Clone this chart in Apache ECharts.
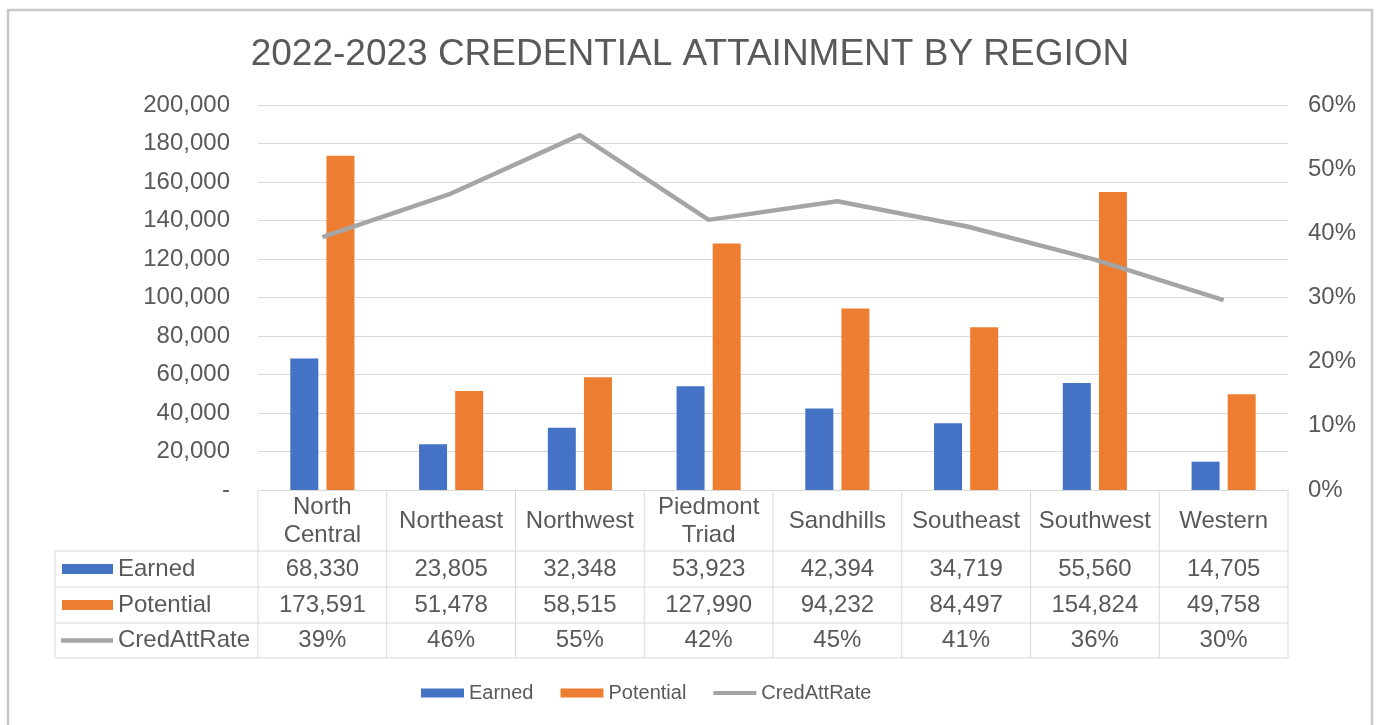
<!DOCTYPE html>
<html>
<head>
<meta charset="utf-8">
<script src="https://cdn.jsdelivr.net/npm/echarts@6/dist/echarts.min.js"></script>
<style>
html,body{margin:0;padding:0;background:#fff;}
#c{width:1380px;height:725px;}
</style>
</head>
<body>
<div id="c"></div>
<script>
var categories = ['North\nCentral', 'Northeast', 'Northwest', 'Piedmont\nTriad', 'Sandhills', 'Southeast', 'Southwest', 'Western'];
var earned = [68330, 23805, 32348, 53923, 42394, 34719, 55560, 14705];
var potential = [173591, 51478, 58515, 127990, 94232, 84497, 154824, 49758];
var credAttRate = [0.394, 0.462, 0.553, 0.421, 0.450, 0.411, 0.359, 0.296];
var leftTicks = {min: 0, max: 200000, interval: 20000};
var rightTicks = {min: 0, max: 0.6, interval: 0.1};

var FONT = '"Liberation Sans", Arial, sans-serif';
var TXT = '#595959';
var BLUE = '#4472C4', ORANGE = '#ED7D31', GRAY = '#A5A5A5';
var LINE = '#D9D9D9';
var FS = 24;

var chart = echarts.init(document.getElementById('c'), null, {renderer: 'canvas'});
var GRID = {left: 258, right: 92, top: 105, bottom: 235};

function fmtNum(v) { return v === 0 ? '-' : v.toLocaleString('en-US'); }

var option = {
  animation: false,
  backgroundColor: '#fff',
  textStyle: {fontFamily: FONT},
  title: {
    text: '2022-2023 CREDENTIAL ATTAINMENT BY REGION',
    left: 'center', top: 31,
    textStyle: {fontFamily: FONT, fontSize: 37, fontWeight: 'normal', color: TXT}
  },
  legend: {
    top: 678, left: 416,
    itemWidth: 43, itemHeight: 9, itemGap: 27,
    textStyle: {fontFamily: FONT, fontSize: 20, color: TXT},
    data: [
      {name: 'Earned', icon: 'rect'},
      {name: 'Potential', icon: 'rect'},
      {name: 'CredAttRate', icon: 'path://M0,0h43v4h-43z'}
    ]
  },
  grid: GRID,
  xAxis: {
    type: 'category', data: categories,
    axisLine: {show: true, lineStyle: {color: LINE, width: 1}},
    axisTick: {show: false},
    axisLabel: {fontFamily: FONT, fontSize: FS, color: TXT, margin: 31, lineHeight: 28, verticalAlign: 'middle', interval: 0}
  },
  yAxis: [
    {
      type: 'value', min: leftTicks.min, max: leftTicks.max, interval: leftTicks.interval,
      axisLine: {show: false}, axisTick: {show: false},
      splitLine: {lineStyle: {color: LINE, width: 1}},
      axisLabel: {fontFamily: FONT, fontSize: FS, color: TXT, margin: 28, formatter: fmtNum}
    },
    {
      type: 'value', min: rightTicks.min, max: rightTicks.max, interval: rightTicks.interval,
      axisLine: {show: false}, axisTick: {show: false}, splitLine: {show: false},
      axisLabel: {fontFamily: FONT, fontSize: FS, color: TXT, margin: 20,
        formatter: function (v) { return Math.round(v * 100) + '%'; }}
    }
  ],
  series: [
    {name: 'Earned', type: 'bar', data: earned, itemStyle: {color: BLUE}, barWidth: 28, barGap: '29%'},
    {name: 'Potential', type: 'bar', data: potential, itemStyle: {color: ORANGE}, barWidth: 28},
    {name: 'CredAttRate', type: 'line', yAxisIndex: 1, data: credAttRate, showSymbol: false, symbol: 'none',
      lineStyle: {color: GRAY, width: 4.5}, itemStyle: {color: GRAY}}
  ]
};
chart.setOption(option);

// Data table under the plot, positioned from the category axis scale
(function () {
  var x0 = chart.convertToPixel({xAxisIndex: 0}, 0);
  var x1 = chart.convertToPixel({xAxisIndex: 0}, 1);
  var band = x1 - x0;
  var left = x0 - band / 2;
  var right = left + band * categories.length;
  var yTop = chart.convertToPixel({yAxisIndex: 0}, 0);
  var rows = [yTop, yTop + 61, yTop + 97, yTop + 133, yTop + 168];
  var keyLeft = 55;
  var g = [];
  function hline(x1_, x2_, y) { g.push({type: 'line', silent: true, shape: {x1: x1_, y1: y, x2: x2_, y2: y}, style: {stroke: LINE, lineWidth: 1}}); }
  function vline(x, y1, y2) { g.push({type: 'line', silent: true, shape: {x1: x, y1: y1, x2: x, y2: y2}, style: {stroke: LINE, lineWidth: 1}}); }
  for (var r = 1; r < rows.length; r++) hline(keyLeft, right, rows[r]);
  vline(keyLeft, rows[1], rows[4]);
  for (var i = 0; i <= categories.length; i++) vline(left + band * i, rows[0], rows[4]);
  var rowData = [
    {name: 'Earned', vals: earned.map(fmtNum), key: 'rect', color: BLUE},
    {name: 'Potential', vals: potential.map(fmtNum), key: 'rect', color: ORANGE},
    {name: 'CredAttRate', vals: credAttRate.map(function (v) { return Math.round(v * 100) + '%'; }), key: 'line', color: GRAY}
  ];
  rowData.forEach(function (rd, k) {
    var cy = (rows[k + 1] + rows[k + 2]) / 2;
    if (rd.key === 'rect') {
      g.push({type: 'rect', silent: true, shape: {x: 62, y: cy - 5, width: 51, height: 10}, style: {fill: rd.color}});
    } else {
      g.push({type: 'line', silent: true, shape: {x1: 61, y1: cy, x2: 113, y2: cy}, style: {stroke: rd.color, lineWidth: 4.5}});
    }
    g.push({type: 'text', silent: true, x: 118, y: cy, style: {text: rd.name, fontFamily: FONT, fontSize: FS, fill: TXT, align: 'left', verticalAlign: 'middle'}});
    rd.vals.forEach(function (v, i) {
      g.push({type: 'text', silent: true, x: left + band * (i + 0.5), y: cy, style: {text: v, fontFamily: FONT, fontSize: FS, fill: TXT, align: 'center', verticalAlign: 'middle'}});
    });
  });
  // outer chart border
  g.push({type: 'rect', silent: true, shape: {x: 8, y: 10, width: 1364, height: 740}, style: {fill: null, stroke: '#C8C8C8', lineWidth: 2.5}});
  chart.setOption({graphic: g});
})();
</script>
</body>
</html>
